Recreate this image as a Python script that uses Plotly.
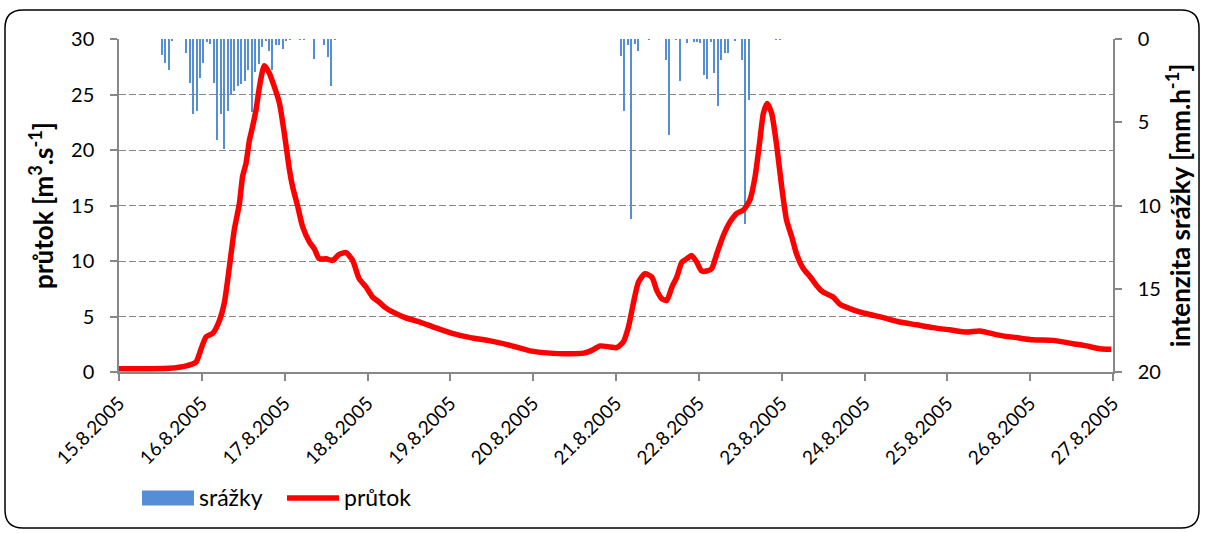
import pandas as pd
import plotly.graph_objects as go

START = pd.Timestamp("2005-08-15 00:00")

# ---- flow (průtok), hours since 15.8.2005 00:00 and m3/s ----
flow_hours = [0, 8, 14.6, 19.5, 22.3, 23.8, 25.2, 27.2, 29.1, 30.5, 32.0, 33.4, 34.9, 35.8,
              36.8, 37.8, 38.7, 39.7, 40.7, 42.1, 43.6, 45.0, 46.5, 47.9, 49.4, 50.3, 51.8,
              53.2, 55.2, 56.6, 58.0, 60.0, 61.9, 63.8, 65.8, 67.7, 69.6, 71.6, 73.5, 75.4,
              77.2, 80.0, 82.9, 87.2, 91.6, 96.3, 101.8, 107.6, 113.3, 119.1, 124.9, 130.2,
              134.6, 137.0, 139.4, 142.3, 144.2, 146.1, 147.6, 149.0, 150.5, 152.4, 154.4,
              155.8, 157.3, 158.7, 160.2, 161.6, 163.1, 164.5, 165.9, 167.4, 168.8, 170.3,
              171.7, 173.2, 175.1, 177.0, 179.0, 180.9, 182.8, 184.3, 185.7, 186.7, 187.8,
              189.1, 190.6, 192.0, 193.4, 194.9, 196.3, 198.3, 200.2, 202.1, 204.0, 206.9,
              208.9, 212.7, 216.6, 221.4, 226.2, 231.1, 235.9, 240.7, 245.5, 249.4, 255.2,
              260.0, 264.8, 270.6, 276.4, 280.3, 284.2, 287.5]
flow_values = [0.3, 0.3, 0.33, 0.55, 0.9, 2.1, 3.15, 3.5, 4.65, 6.2, 9.5, 12.8, 15.2, 17.6,
               18.8, 20.9, 22.1, 23.6, 25.7, 27.6, 26.9, 25.7, 24.2, 21.5, 18.2, 16.7, 14.9,
               13.1, 11.7, 11.1, 10.2, 10.2, 10.05, 10.6, 10.75, 10.05, 8.4, 7.65, 6.75, 6.3,
               5.8, 5.3, 4.9, 4.5, 4.0, 3.5, 3.1, 2.8, 2.4, 1.9, 1.7, 1.65,
               1.7, 1.95, 2.35, 2.25, 2.2, 2.7, 4.05, 6.15, 8.1, 8.85, 8.55,
               7.35, 6.6, 6.45, 7.65, 8.55, 9.9, 10.2, 10.5, 9.9, 9.1, 9.1,
               9.3, 10.65, 12.3, 13.5, 14.3, 14.6, 15.5, 17.6, 20.9, 23.3, 24.2,
               23.3, 20.3, 16.7, 13.7, 12.2, 10.65, 9.3, 8.6, 7.8, 7.2, 6.75,
               6.1, 5.6, 5.25, 4.9, 4.5, 4.25, 4.0, 3.8, 3.6, 3.7, 3.3,
               3.1, 2.9, 2.85, 2.55, 2.35, 2.1, 2.05]

# ---- rainfall intensity (srážky), hourly, hour index since 15.8.2005 00:00, mm/h ----
rain_hours = [12, 13, 14, 15, 19, 20, 21, 22, 23, 24, 25, 26, 27, 28, 29, 30, 31, 32, 33,
              34, 35, 36, 37, 38, 39, 40, 41, 42, 43, 44, 45, 46, 47, 48, 49, 52, 53, 56,
              59, 60, 61, 62,
              145, 146, 147, 148, 149, 150, 153, 158, 159, 161, 162, 164, 166, 167, 168,
              169, 170, 171, 172, 173, 174, 175, 176, 178, 180, 181, 182, 190, 191]
rain_values = [0.94, 1.44, 1.84, 0.08, 0.84, 2.64, 4.48, 4.32, 2.34, 1.44, 0.18, 0.28, 2.64,
               6.08, 4.48, 6.62, 4.3, 3.3, 3.1, 2.8, 2.7, 2.55, 1.88, 4.4, 2.0, 1.5, 0.5,
               0.1, 0.7, 1.86, 0.35, 0.35, 0.6, 0.1, 0.05, 0.05, 0.05, 1.2, 0.35, 1.1, 2.8,
               0.05,
               1.02, 4.32, 0.38, 10.8, 0.3, 0.72, 0.05, 1.24, 5.74, 0.05, 2.52, 0.24, 0.15,
               0.15, 0.24, 2.14, 2.42, 0.2, 2.04, 4.02, 1.24, 0.84, 0.84, 0.1, 1.24, 11.1,
               3.68, 0.05, 0.05]

series_names = ["srážky", "průtok"]
x_ticks_days = 13  # 15.8. .. 27.8.

flow_t = [START + pd.Timedelta(hours=h) for h in flow_hours]
rain_t = [START + pd.Timedelta(hours=h + 0.5) for h in rain_hours]

FONT = "Lato"
GRID = "#878787"
BLUE = "#558ED5"
RED = "#FF0000"

fig = go.Figure()
fig.add_trace(go.Bar(
    x=rain_t, y=rain_values, name=series_names[0], yaxis="y",
    marker=dict(color=BLUE, line=dict(width=0)),
    width=1.35e6, showlegend=False,
))
fig.add_trace(go.Scatter(
    x=flow_t, y=flow_values, name=series_names[1], yaxis="y2", mode="lines",
    line=dict(color=RED, width=5.5, shape="spline", smoothing=0.6),
    showlegend=False,
))

W, H = 1205, 533
L, R, T, B = 119, 92, 39, 161
pw, ph = W - L - R, H - T - B

def px(x):
    return (x - L) / pw

def py(y):
    return 1 - (y - T) / ph

x0, x1, y0, y1 = px(5), px(1199), py(528), py(10)
rx, ry = 18 / pw, 18 / ph
border = (f"M {x0+rx},{y1} L {x1-rx},{y1} Q {x1},{y1} {x1},{y1-ry} "
          f"L {x1},{y0+ry} Q {x1},{y0} {x1-rx},{y0} L {x0+rx},{y0} "
          f"Q {x0},{y0} {x0},{y0+ry} L {x0},{y1-ry} Q {x0},{y1} {x0+rx},{y1} Z")

# legend drawn as key shapes + labels below the plot
LEG_Y = 498
shapes = [
    dict(type="path", path=border, xref="paper", yref="paper",
         line=dict(color="black", width=1.5), layer="above"),
    dict(type="line", xref="paper", yref="paper", x0=px(142), x1=px(194),
         y0=py(LEG_Y), y1=py(LEG_Y), line=dict(color=BLUE, width=15)),
    dict(type="line", xref="paper", yref="paper", x0=px(287), x1=px(339),
         y0=py(LEG_Y), y1=py(LEG_Y), line=dict(color=RED, width=5.5)),
]
annotations = [
    dict(text=series_names[0], xref="paper", yref="paper", x=px(197), y=py(LEG_Y - 1),
         xanchor="left", yanchor="middle", showarrow=False, font=dict(size=23)),
    dict(text=series_names[1], xref="paper", yref="paper", x=px(342), y=py(LEG_Y - 1),
         xanchor="left", yanchor="middle", showarrow=False, font=dict(size=23)),
]

fig.update_layout(
    width=W, height=H,
    margin=dict(l=L, r=R, t=T, b=B, pad=0),
    paper_bgcolor="white", plot_bgcolor="white",
    font=dict(family=FONT, size=20, color="black"),
    showlegend=False,
    bargap=0,
    shapes=shapes,
    annotations=annotations,
    xaxis=dict(
        type="date",
        range=[START, START + pd.Timedelta(days=x_ticks_days - 1)],
        tick0=START, dtick=86400000, tickformat="%-d.%-m.%Y", tickangle=-45,
        showgrid=False, showline=True, linecolor=GRID, linewidth=1.5,
        ticks="outside", ticklen=7, tickcolor=GRID, tickwidth=1.5,
        zeroline=False, tickfont=dict(size=19), ticklabelstandoff=4,
    ),
    yaxis=dict(
        side="right", range=[20, 0], tick0=0, dtick=5,
        showgrid=False, zeroline=False, showline=True, linecolor=GRID, linewidth=1.5,
        ticks="outside", ticklen=7, tickcolor=GRID, tickwidth=1.5,
        ticklabelstandoff=12,
        title=dict(text="<b>intenzita srážky [mm.h<sup>-1</sup>]</b>", standoff=10,
                   font=dict(size=26)),
    ),
    yaxis2=dict(
        overlaying="y", side="left", range=[0, 30], tick0=0, dtick=5,
        showgrid=True, gridcolor=GRID, gridwidth=1.3, griddash="7px,3px",
        zeroline=False, showline=True, linecolor=GRID, linewidth=1.5,
        ticks="outside", ticklen=7, tickcolor=GRID, tickwidth=1.5,
        ticklabelstandoff=12,
        title=dict(text="<b>průtok [m<sup>3</sup>.s<sup>-1</sup>]</b>", standoff=10,
                   font=dict(size=26)),
    ),
)

fig.write_html("out.html")
